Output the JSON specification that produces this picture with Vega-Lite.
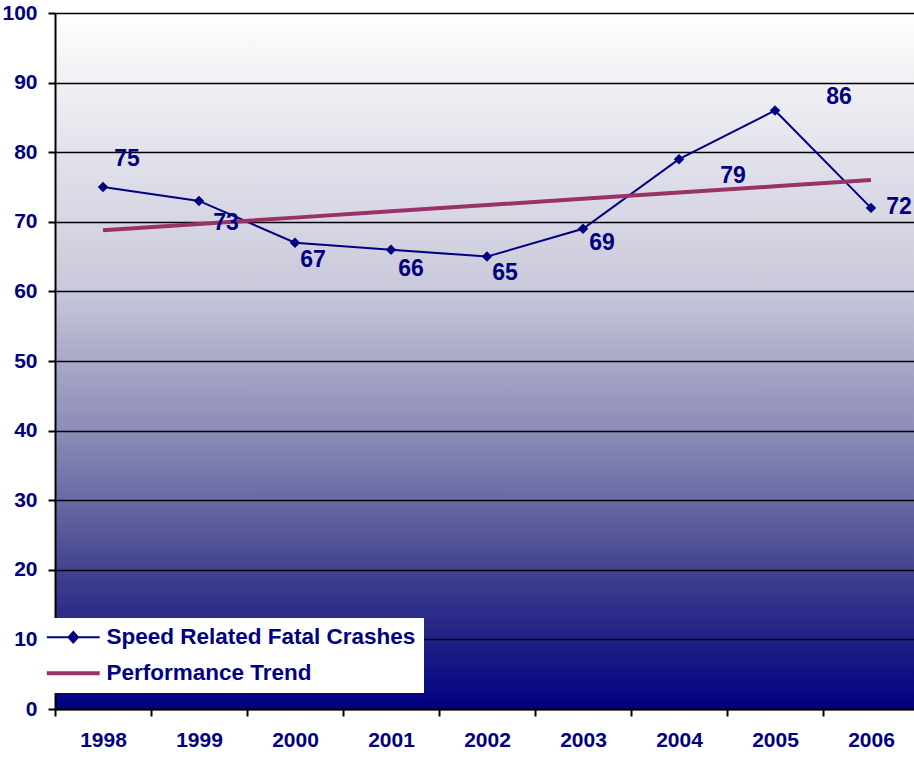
{
  "$schema": "https://vega.github.io/schema/vega-lite/v6.json",
  "autosize": "none",
  "width": 864,
  "height": 696,
  "padding": {"left": 55, "top": 13, "right": 0, "bottom": 48},
  "background": "white",
  "view": {
    "stroke": null,
    "fill": {
      "gradient": "linear", "x1": 0, "y1": 0, "x2": 0, "y2": 1,
      "stops": [
        {"offset": 0, "color": "#ffffff"},
        {"offset": 0.1, "color": "#f0f0f4"},
        {"offset": 0.2, "color": "#e2e2ec"},
        {"offset": 0.3, "color": "#d6d6e4"},
        {"offset": 0.4, "color": "#c8c8da"},
        {"offset": 0.5, "color": "#a8a8c8"},
        {"offset": 0.6, "color": "#8c8cb8"},
        {"offset": 0.7, "color": "#6a6aa4"},
        {"offset": 0.8, "color": "#42428f"},
        {"offset": 0.9, "color": "#202086"},
        {"offset": 1, "color": "#000080"}
      ]
    }
  },
  "config": {
    "font": "Liberation Sans",
    "axis": {
      "labelFont": "Liberation Sans",
      "labelFontWeight": "bold",
      "labelFontSize": 21,
      "labelColor": "#000080",
      "domainColor": "black",
      "domainWidth": 2,
      "tickColor": "black",
      "tickWidth": 2,
      "tickSize": 7,
      "title": null
    }
  },
  "datasets": {
    "rows": [
      {"year": "1998", "series": "Speed Related Fatal Crashes", "value": 75},
      {"year": "1999", "series": "Speed Related Fatal Crashes", "value": 73},
      {"year": "2000", "series": "Speed Related Fatal Crashes", "value": 67},
      {"year": "2001", "series": "Speed Related Fatal Crashes", "value": 66},
      {"year": "2002", "series": "Speed Related Fatal Crashes", "value": 65},
      {"year": "2003", "series": "Speed Related Fatal Crashes", "value": 69},
      {"year": "2004", "series": "Speed Related Fatal Crashes", "value": 79},
      {"year": "2005", "series": "Speed Related Fatal Crashes", "value": 86},
      {"year": "2006", "series": "Speed Related Fatal Crashes", "value": 72},
      {"year": "1998", "series": "Performance Trend", "value": 68.8},
      {"year": "1999", "series": "Performance Trend", "value": 69.7},
      {"year": "2000", "series": "Performance Trend", "value": 70.6},
      {"year": "2001", "series": "Performance Trend", "value": 71.5},
      {"year": "2002", "series": "Performance Trend", "value": 72.4},
      {"year": "2003", "series": "Performance Trend", "value": 73.3},
      {"year": "2004", "series": "Performance Trend", "value": 74.2},
      {"year": "2005", "series": "Performance Trend", "value": 75.1},
      {"year": "2006", "series": "Performance Trend", "value": 76.0}
    ]
  },
  "data": {"name": "rows"},
  "encoding": {
    "x": {
      "field": "year", "type": "ordinal",
      "scale": {"paddingInner": 0, "paddingOuter": 0},
      "axis": {"labelAngle": 0, "tickBand": "extent", "labelPadding": 13, "grid": false}
    },
    "y": {
      "field": "value", "type": "quantitative",
      "scale": {"domain": [0, 100], "nice": false},
      "axis": {"values": [0,10,20,30,40,50,60,70,80,90,100], "grid": true, "gridColor": "black", "gridWidth": 1.5, "gridOpacity": 1, "labelPadding": 11, "zindex": 0}
    }
  },
  "layer": [
    {
      "transform": [{"filter": "datum.series === 'Speed Related Fatal Crashes'"}],
      "mark": {"type": "line", "strokeWidth": 2},
      "encoding": {
        "color": {
          "field": "series", "type": "nominal",
          "scale": {"domain": ["Speed Related Fatal Crashes", "Performance Trend"], "range": ["#000080", "#993366"]},
          "legend": {
            "orient": "none", "legendX": -9, "legendY": 605,
            "title": null, "fillColor": "white", "padding": 8,
            "labelFont": "Liberation Sans", "labelFontWeight": "bold", "labelFontSize": 22.5, "labelColor": "#000080",
            "labelLimit": 600, "labelOffset": 22, "rowPadding": 13,
            "symbolSize": 112, "symbolOffset": 8,
            "encode": {
              "symbols": {
                "update": {
                  "shape": {"signal": "datum.value === 'Performance Trend' ? 'M-5,0L5,0' : 'M-5,0L5,0M0,-1L0.9,0L0,1L-0.9,0Z'"},
                  "strokeWidth": {"signal": "datum.value === 'Performance Trend' ? 4 : 2"},
                  "fill": {"signal": "datum.value === 'Performance Trend' ? 'transparent' : '#000080'"},
                  "opacity": {"value": 1}
                }
              }
            }
          }
        }
      }
    },
    {
      "transform": [{"filter": "datum.series === 'Performance Trend'"}],
      "mark": {"type": "line", "strokeWidth": 4},
      "encoding": {"color": {"field": "series", "type": "nominal"}}
    },
    {
      "transform": [{"filter": "datum.series === 'Speed Related Fatal Crashes'"}],
      "mark": {"type": "point", "shape": "diamond", "filled": true, "size": 110, "color": "#000080", "opacity": 1}
    },
    {
      "transform": [{"filter": "datum.series === 'Speed Related Fatal Crashes' && datum.year === '1998'"}],
      "mark": {"type": "text", "font": "Liberation Sans", "fontWeight": "bold", "fontSize": 23, "color": "#000080", "dx": 24, "dy": -28},
      "encoding": {"text": {"field": "value"}}
    },
    {
      "transform": [{"filter": "datum.series === 'Speed Related Fatal Crashes' && datum.year === '1999'"}],
      "mark": {"type": "text", "font": "Liberation Sans", "fontWeight": "bold", "fontSize": 23, "color": "#000080", "dx": 27, "dy": 22},
      "encoding": {"text": {"field": "value"}}
    },
    {
      "transform": [{"filter": "datum.series === 'Speed Related Fatal Crashes' && datum.year === '2000'"}],
      "mark": {"type": "text", "font": "Liberation Sans", "fontWeight": "bold", "fontSize": 23, "color": "#000080", "dx": 18, "dy": 17},
      "encoding": {"text": {"field": "value"}}
    },
    {
      "transform": [{"filter": "datum.series === 'Speed Related Fatal Crashes' && datum.year === '2001'"}],
      "mark": {"type": "text", "font": "Liberation Sans", "fontWeight": "bold", "fontSize": 23, "color": "#000080", "dx": 20, "dy": 19},
      "encoding": {"text": {"field": "value"}}
    },
    {
      "transform": [{"filter": "datum.series === 'Speed Related Fatal Crashes' && datum.year === '2002'"}],
      "mark": {"type": "text", "font": "Liberation Sans", "fontWeight": "bold", "fontSize": 23, "color": "#000080", "dx": 18, "dy": 16},
      "encoding": {"text": {"field": "value"}}
    },
    {
      "transform": [{"filter": "datum.series === 'Speed Related Fatal Crashes' && datum.year === '2003'"}],
      "mark": {"type": "text", "font": "Liberation Sans", "fontWeight": "bold", "fontSize": 23, "color": "#000080", "dx": 19, "dy": 14},
      "encoding": {"text": {"field": "value"}}
    },
    {
      "transform": [{"filter": "datum.series === 'Speed Related Fatal Crashes' && datum.year === '2004'"}],
      "mark": {"type": "text", "font": "Liberation Sans", "fontWeight": "bold", "fontSize": 23, "color": "#000080", "dx": 54, "dy": 17},
      "encoding": {"text": {"field": "value"}}
    },
    {
      "transform": [{"filter": "datum.series === 'Speed Related Fatal Crashes' && datum.year === '2005'"}],
      "mark": {"type": "text", "font": "Liberation Sans", "fontWeight": "bold", "fontSize": 23, "color": "#000080", "dx": 64, "dy": -13},
      "encoding": {"text": {"field": "value"}}
    },
    {
      "transform": [{"filter": "datum.series === 'Speed Related Fatal Crashes' && datum.year === '2006'"}],
      "mark": {"type": "text", "font": "Liberation Sans", "fontWeight": "bold", "fontSize": 23, "color": "#000080", "dx": 28, "dy": -1},
      "encoding": {"text": {"field": "value"}}
    }
  ]
}
